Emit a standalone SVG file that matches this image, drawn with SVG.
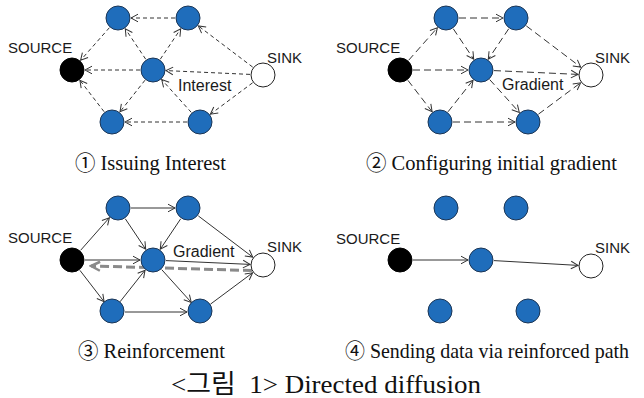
<svg xmlns="http://www.w3.org/2000/svg" width="644" height="398" viewBox="0 0 644 398">
<defs>
<style>
.bn{fill:#1f6dbb;stroke:#1c3554;stroke-width:1}
.src{fill:#000;stroke:#000;stroke-width:1}
.snk{fill:#fff;stroke:#222;stroke-width:1}
.e{fill:none;stroke:#333;stroke-width:1;marker-end:url(#ah)}
.d1{stroke-dasharray:4 3}
.d2{stroke-dasharray:7 4}
.g{fill:none;stroke:#8a8a8a;stroke-width:3;stroke-dasharray:9 4;marker-end:url(#ahg)}
.lbl{font-family:"Liberation Sans",Arial,sans-serif;font-size:15px;fill:#1a1a1a}
.lbl2{font-family:"Liberation Sans",Arial,sans-serif;font-size:16px;fill:#1a1a1a}
.cap{font-family:"Liberation Serif","Noto Sans CJK KR",serif;font-size:21px;fill:#111}
.main{font-family:"Liberation Serif","Noto Sans CJK KR",serif;font-size:26px;fill:#111}
</style>
<marker id="ah" viewBox="-9 -6 11 12" refX="0" refY="0" markerWidth="11" markerHeight="12" markerUnits="userSpaceOnUse" orient="auto"><path d="M-7,-3.8 L0,0 L-7,3.8" fill="none" stroke="#333" stroke-width="1"/></marker>
<marker id="ahg" viewBox="-12 -7 14 14" refX="0" refY="0" markerWidth="14" markerHeight="14" markerUnits="userSpaceOnUse" orient="auto"><path d="M-9,-4.5 L0,0 L-9,4.5" fill="none" stroke="#8a8a8a" stroke-width="2.5"/></marker>
</defs>
<rect width="644" height="398" fill="#fff"/>

<!-- Panel 1: Issuing Interest -->
<g id="panel1">
<g id="p1-connectors">
<line class="e d1" x1="175" y1="18" x2="131" y2="18"/>
<line class="e d1" x1="109.4" y1="27.7" x2="80.6" y2="60.3"/>
<line class="e d1" x1="140" y1="70" x2="85" y2="70"/>
<line class="e d1" x1="104.1" y1="111.7" x2="79.9" y2="80.3"/>
<line class="e d1" x1="145.7" y1="59.2" x2="125.3" y2="28.8"/>
<line class="e d1" x1="160.3" y1="59.2" x2="180.7" y2="28.8"/>
<line class="e d1" x1="145" y1="80.2" x2="120" y2="111.8"/>
<line class="e d1" x1="187" y1="122" x2="125" y2="122"/>
<line class="e d1" x1="191.3" y1="112.4" x2="161.7" y2="79.6"/>
<line class="e d1" x1="252.7" y1="67.1" x2="198.3" y2="25.9"/>
<line class="e d1" x1="250" y1="74.4" x2="166" y2="70.6"/>
<line class="e d1" x1="252.6" y1="82.8" x2="210.4" y2="114.2"/>
</g>
<g id="p1-source"><circle class="src" cx="72" cy="70" r="12"/><text class="lbl" x="8" y="53">SOURCE</text></g>
<g id="p1-sink"><circle class="snk" cx="263" cy="75" r="12"/><text class="lbl" x="267" y="63">SINK</text></g>
<g id="p1-n-tl"><circle class="bn" cx="118" cy="18" r="12"/></g>
<g id="p1-n-tr"><circle class="bn" cx="188" cy="18" r="12"/></g>
<g id="p1-n-c"><circle class="bn" cx="153" cy="70" r="12"/></g>
<g id="p1-n-bl"><circle class="bn" cx="112" cy="122" r="12"/></g>
<g id="p1-n-br"><circle class="bn" cx="200" cy="122" r="12"/></g>
<text class="lbl2" x="178" y="91">Interest</text>
</g>

<!-- Panel 2: Configuring initial gradient -->
<g id="panel2" transform="translate(328,0)">
<g id="p2-connectors">
<line class="e d2" x1="80.6" y1="60.3" x2="109.4" y2="27.7"/>
<line class="e d2" x1="85" y1="70" x2="140" y2="70"/>
<line class="e d2" x1="79.9" y1="80.3" x2="104.1" y2="111.7"/>
<line class="e d2" x1="131" y1="18" x2="175" y2="18"/>
<line class="e d2" x1="125.3" y1="28.8" x2="145.7" y2="59.2"/>
<line class="e d2" x1="180.7" y1="28.8" x2="160.3" y2="59.2"/>
<line class="e d2" x1="120" y1="111.8" x2="145" y2="80.2"/>
<line class="e d2" x1="125" y1="122" x2="187" y2="122"/>
<line class="e d2" x1="161.7" y1="79.6" x2="191.3" y2="112.4"/>
<line class="e d2" x1="198.3" y1="25.9" x2="252.7" y2="67.1"/>
<line class="e d2" x1="166" y1="70.6" x2="250" y2="74.4"/>
<line class="e d2" x1="210.4" y1="114.2" x2="252.6" y2="82.8"/>
</g>
<g id="p2-source"><circle class="src" cx="72" cy="70" r="12"/><text class="lbl" x="8" y="53">SOURCE</text></g>
<g id="p2-sink"><circle class="snk" cx="263" cy="75" r="12"/><text class="lbl" x="267" y="63">SINK</text></g>
<g id="p2-n-tl"><circle class="bn" cx="118" cy="18" r="12"/></g>
<g id="p2-n-tr"><circle class="bn" cx="188" cy="18" r="12"/></g>
<g id="p2-n-c"><circle class="bn" cx="153" cy="70" r="12"/></g>
<g id="p2-n-bl"><circle class="bn" cx="112" cy="122" r="12"/></g>
<g id="p2-n-br"><circle class="bn" cx="200" cy="122" r="12"/></g>
<text class="lbl2" x="174" y="90">Gradient</text>
</g>

<!-- Panel 3: Reinforcement -->
<g id="panel3" transform="translate(0,190)">
<g id="p3-connectors">
<line class="e" x1="80.6" y1="60.3" x2="109.4" y2="27.7"/>
<line class="e" x1="85" y1="70" x2="140" y2="70"/>
<line class="e" x1="79.9" y1="80.3" x2="104.1" y2="111.7"/>
<line class="e" x1="131" y1="18" x2="175" y2="18"/>
<line class="e" x1="125.3" y1="28.8" x2="145.7" y2="59.2"/>
<line class="e" x1="180.7" y1="28.8" x2="160.3" y2="59.2"/>
<line class="e" x1="120" y1="111.8" x2="145" y2="80.2"/>
<line class="e" x1="125" y1="122" x2="187" y2="122"/>
<line class="e" x1="161.7" y1="79.6" x2="191.3" y2="112.4"/>
<line class="e" x1="198.3" y1="25.9" x2="252.7" y2="67.1"/>
<line class="e" x1="166" y1="70.6" x2="250" y2="74.4"/>
<line class="e" x1="210.4" y1="114.2" x2="252.6" y2="82.8"/>
<line class="g" x1="252" y1="80.5" x2="91" y2="76"/>
</g>
<g id="p3-source"><circle class="src" cx="72" cy="70" r="12"/><text class="lbl" x="8" y="53">SOURCE</text></g>
<g id="p3-sink"><circle class="snk" cx="263" cy="75" r="12"/><text class="lbl" x="267" y="62">SINK</text></g>
<g id="p3-n-tl"><circle class="bn" cx="118" cy="18" r="12"/></g>
<g id="p3-n-tr"><circle class="bn" cx="188" cy="18" r="12"/></g>
<g id="p3-n-c"><circle class="bn" cx="153" cy="70" r="12"/></g>
<g id="p3-n-bl"><circle class="bn" cx="112" cy="121" r="12"/></g>
<g id="p3-n-br"><circle class="bn" cx="200" cy="121" r="12"/></g>
<text class="lbl2" x="173" y="67">Gradient</text>
</g>

<!-- Panel 4: Sending data via reinforced path -->
<g id="panel4" transform="translate(328,190)">
<g id="p4-connectors">
<line class="e" x1="85" y1="70" x2="140" y2="70"/>
<line class="e" x1="166" y1="70.6" x2="250" y2="75.4"/>
</g>
<g id="p4-source"><circle class="src" cx="72" cy="70" r="12"/><text class="lbl" x="8" y="54">SOURCE</text></g>
<g id="p4-sink"><circle class="snk" cx="263" cy="76" r="12"/><text class="lbl" x="267" y="63">SINK</text></g>
<g id="p4-n-tl"><circle class="bn" cx="118" cy="18" r="12"/></g>
<g id="p4-n-tr"><circle class="bn" cx="188" cy="18" r="12"/></g>
<g id="p4-n-c"><circle class="bn" cx="153" cy="70" r="12"/></g>
<g id="p4-n-bl"><circle class="bn" cx="112" cy="121" r="12"/></g>
<g id="p4-n-br"><circle class="bn" cx="200" cy="121" r="12"/></g>
</g>

<!-- Captions -->
<g id="captions">
<text class="cap" x="75" y="170" textLength="151" lengthAdjust="spacingAndGlyphs">① Issuing Interest</text>
<text class="cap" x="366" y="170" textLength="251" lengthAdjust="spacingAndGlyphs">② Configuring initial gradient</text>
<text class="cap" x="78" y="358" textLength="147" lengthAdjust="spacingAndGlyphs">③ Reinforcement</text>
<text class="cap" x="345" y="358" font-size="19" textLength="284" lengthAdjust="spacingAndGlyphs">④ Sending data via reinforced path</text>
<text class="main" x="171" y="393" textLength="310" lengthAdjust="spacingAndGlyphs" xml:space="preserve">&lt;그림  1&gt; Directed diffusion</text>
</g>
</svg>
